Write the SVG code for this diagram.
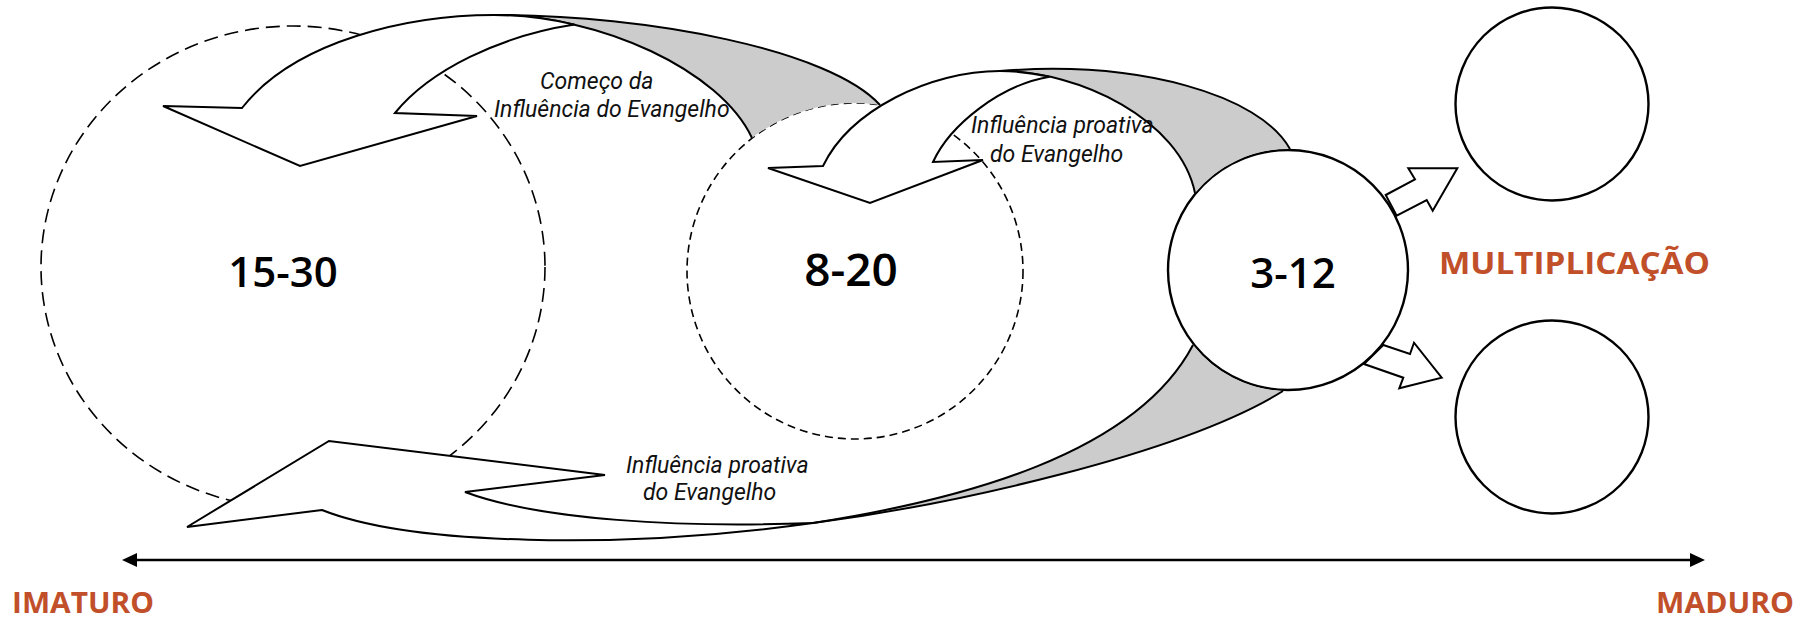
<svg xmlns="http://www.w3.org/2000/svg" width="1811" height="621" viewBox="0 0 1811 621">
<defs>
<style>
.dash-l{fill:#fff;stroke:#000;stroke-width:1.6;stroke-dasharray:14 7}
.dash-m{fill:#fff;stroke:#000;stroke-width:1.6;stroke-dasharray:8 5}
.solid{fill:#fff;stroke:#000;stroke-width:2.4}
.num{font-family:"Open Sans","Noto Sans",sans-serif;font-weight:600;fill:#000;text-anchor:middle}
.face{fill:#fff;stroke:#000;stroke-width:2}
.band{fill:#cccccc;stroke:none}
.edge{fill:none;stroke:#000;stroke-width:2}
.small{fill:#fff;stroke:#000;stroke-width:2}
.lbl{font-family:Roboto,"Liberation Sans",sans-serif;font-style:italic;font-size:23px;fill:#111}
.tag{font-family:"Open Sans","Liberation Sans",sans-serif;font-weight:700;fill:#C1502A}
.axis{stroke:#000;stroke-width:2.5;fill:none}
</style>
<marker id="ah" viewBox="0 0 15 14" refX="7" refY="7" markerWidth="15" markerHeight="14" markerUnits="userSpaceOnUse" orient="auto-start-reverse">
<path d="M0,0 L15,7 L0,14 Z" fill="#000"/>
</marker>
</defs>

<g id="node-15-30">
<ellipse class="dash-l" cx="293" cy="267" rx="252" ry="241"/>
<text class="num" x="283" y="287" font-size="42">15-30</text>
</g>

<g id="node-8-20">
<circle class="dash-m" cx="855" cy="271" r="168"/>
<text class="num" x="851" y="286" font-size="46">8-20</text>
</g>

<g id="node-3-12">
<circle class="solid" cx="1288" cy="270" r="120"/>
<text class="num" x="1293" y="288" font-size="42">3-12</text>
</g>

<g id="node-top">
<circle class="solid" cx="1552" cy="104" r="96.5"/>
</g>

<g id="node-bottom">
<circle class="solid" cx="1552" cy="417" r="96.5"/>
</g>

<g id="connectors">
<g id="arrow-1">
<path class="band" d="M494,15 C650,15 830,50 880,105 A169,169 0 0 0 752,138 C720,70 600,15 494,15 Z"/>
<path class="edge" d="M494,15 C650,15 830,50 880,105"/>
<path class="edge" d="M494,15 C600,15 720,70 752,138"/>
<path class="face" d="M242,108 L163,106 L300,166 L477,116 L395,113 C430,70 500,36 574.5,24.6 C548,18.4 520.5,15 494,15 C410,15 295,40 242,108 Z"/>
<text class="lbl" x="540" y="89">Começo da</text>
<text class="lbl" x="494" y="117">Influência do Evangelho</text>
</g>
<g id="arrow-2">
<path class="band" d="M1000,71 C1140,60 1260,95 1290,149 A121.2,121.2 0 0 0 1195,193 C1180,120 1080,71 1000,71 Z"/>
<path class="edge" d="M1000,71 C1140,60 1260,95 1290,149"/>
<path class="edge" d="M1000,71 C1080,71 1180,120 1195,193"/>
<path class="face" d="M823,166 L768,168 L870,203 L983,160 L933,162 C950,125 1000,85 1049.6,76.7 C1032.8,73 1016,71 1000,71 C930,71 850,110 823,166 Z"/>
<text class="lbl" x="971" y="133">Influência proativa</text>
<text class="lbl" x="990" y="162">do Evangelho</text>
</g>
<g id="arrow-3">
<path class="band" d="M813,523 C960,500 1135,455 1193,345 A121.2,121.2 0 0 0 1283,391 C1180,455 950,505 813,523 Z"/>
<path class="edge" d="M813,523 C960,500 1135,455 1193,345"/>
<path class="edge" d="M813,523 C950,505 1180,455 1283,391"/>
<path class="face" d="M322,510 L187,527 L329,441 L605,475 L465,492 C540,520 680,528 813,523 C620,550 410,545 322,510 Z"/>
<text class="lbl" x="626" y="473">Influência proativa</text>
<text class="lbl" x="643" y="500">do Evangelho</text>
</g>
<path id="split-up" class="small" d="M1385.7,195 L1415,179.3 L1408.3,168.3 L1457.3,168.3 L1432.7,210.7 L1426.7,200 L1396.7,215.7 Z"/>
<path id="split-down" class="small" d="M1383.3,345 L1410,354 L1414,342.7 L1441.7,377.7 L1399.3,388.3 L1403.3,377.7 L1364,364 Z"/>
<line id="axis" class="axis" x1="130" y1="560" x2="1697" y2="560" marker-start="url(#ah)" marker-end="url(#ah)"/>
</g>

<g id="labels">
<text class="tag" x="1439" y="274" font-size="30" textLength="271" lengthAdjust="spacingAndGlyphs">MULTIPLICAÇÃO</text>
<text class="tag" x="12" y="613" font-size="28" textLength="142" lengthAdjust="spacingAndGlyphs">IMATURO</text>
<text class="tag" x="1656" y="613" font-size="28" textLength="138" lengthAdjust="spacingAndGlyphs">MADURO</text>
</g>
</svg>
